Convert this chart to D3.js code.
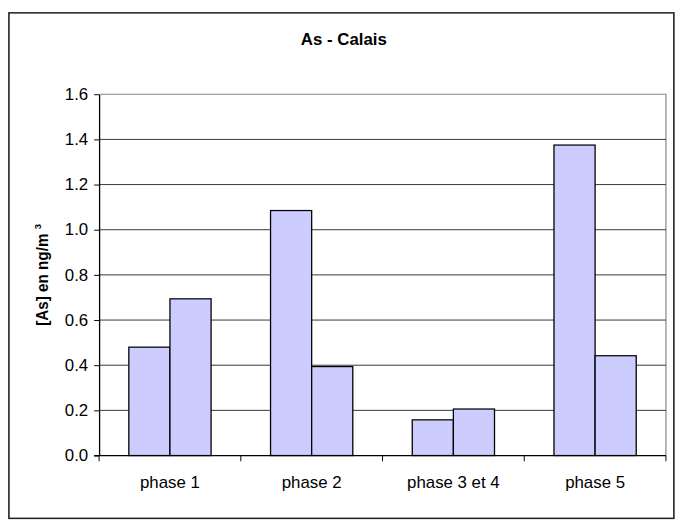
<!DOCTYPE html>
<html>
<head>
<meta charset="utf-8">
<script src="https://cdn.jsdelivr.net/npm/d3@7/dist/d3.min.js"></script>
<style>
  html, body { margin: 0; padding: 0; background: #fff; }
  svg { display: block; }
  text { font-family: "Liberation Sans", Arial, sans-serif; fill: #000; }
</style>
</head>
<body>
<svg id="chart" width="681" height="531"></svg>
<script>
const categories = ["phase 1", "phase 2", "phase 3 et 4", "phase 5"];
const series1 = [0.48, 1.085, 0.158, 1.375];
const series2 = [0.694, 0.394, 0.206, 0.442];
const yTicks = [0, 0.2, 0.4, 0.6, 0.8, 1.0, 1.2, 1.4, 1.6];
const title = "As - Calais";

const root = d3.select("#chart");
// chart laid out in its native frame, then fitted into the 681x531 picture
const svg = root.append("g").attr("transform", "scale(0.991,0.952)");
const plot = { left: 100, right: 672, top: 99, bottom: 478.5 };

// outer chart border
svg.append("rect")
  .attr("x", 9).attr("y", 13.5).attr("width", 671).attr("height", 531)
  .attr("fill", "none").attr("stroke", "#222").attr("stroke-width", 1.6);

const x0 = d3.scaleBand().domain(categories).range([plot.left, plot.right]).padding(0);
const x1 = d3.scaleBand().domain([0, 1]).range([0, x0.bandwidth()]).paddingInner(0).paddingOuter(0.723);
const y = d3.scaleLinear().domain([0, 1.6]).range([plot.bottom, plot.top]);

// plot area border (top and right, gray)
svg.append("path")
  .attr("d", `M${plot.left},${plot.top}H${plot.right}V${plot.bottom}`)
  .attr("fill", "none").attr("stroke", "#888").attr("stroke-width", 1.2);

// gridlines
svg.append("g").selectAll("line")
  .data(yTicks.filter(t => t > 0 && t < 1.6))
  .join("line")
  .attr("x1", plot.left).attr("x2", plot.right)
  .attr("y1", d => y(d)).attr("y2", d => y(d))
  .attr("stroke", "#333").attr("stroke-width", 1);

// bars
const data = categories.map((c, i) => ({ c, vals: [series1[i], series2[i]] }));
svg.append("g").selectAll("g")
  .data(data).join("g")
  .attr("transform", d => `translate(${x0(d.c)},0)`)
  .selectAll("rect")
  .data(d => d.vals.map((v, k) => ({ k, v })))
  .join("rect")
  .attr("x", d => x1(d.k))
  .attr("width", x1.bandwidth())
  .attr("y", d => y(d.v))
  .attr("height", d => y(0) - y(d.v))
  .attr("fill", "#ccccff")
  .attr("stroke", "#000")
  .attr("stroke-width", 1.3);

// y axis
const yAxis = d3.axisLeft(y).tickValues(yTicks).tickFormat(d3.format(".1f")).tickSize(5).tickSizeOuter(0).tickPadding(6);
const gy = svg.append("g").attr("transform", `translate(${plot.left},0)`).call(yAxis);
gy.select(".domain").attr("stroke", "#000").attr("stroke-width", 1.3);
gy.selectAll(".tick line").attr("stroke", "#000");
gy.selectAll(".tick text").attr("font-size", 17).attr("font-family", "Liberation Sans, Arial, sans-serif").attr("fill", "#000");

// x axis
const gx = svg.append("g").attr("transform", `translate(0,${plot.bottom})`);
gx.append("line").attr("x1", plot.left - 5).attr("x2", plot.right)
  .attr("y1", 0).attr("y2", 0).attr("stroke", "#000").attr("stroke-width", 1.3);
const bounds = categories.map(c => x0(c)).concat([plot.right]);
gx.selectAll("line.tk").data(bounds).join("line").attr("class", "tk")
  .attr("x1", d => d).attr("x2", d => d).attr("y1", 0).attr("y2", 6)
  .attr("stroke", "#000");
gx.selectAll("text").data(categories).join("text")
  .attr("x", d => x0(d) + x0.bandwidth() / 2)
  .attr("y", 34)
  .attr("text-anchor", "middle")
  .attr("font-size", 17)
  .text(d => d);

// title
svg.append("text")
  .attr("x", 347).attr("y", 47)
  .attr("text-anchor", "middle")
  .attr("font-size", 17).attr("font-weight", "bold")
  .text(title);

// y axis title
const yt = svg.append("text")
  .attr("transform", `translate(48,${(plot.top + plot.bottom) / 2}) rotate(-90)`)
  .attr("text-anchor", "middle")
  .attr("font-size", 16).attr("font-weight", "bold");
yt.append("tspan").text("[As] en ng/m ");
yt.append("tspan").attr("font-size", 10).attr("dy", -7).text("3");
</script>
</body>
</html>
